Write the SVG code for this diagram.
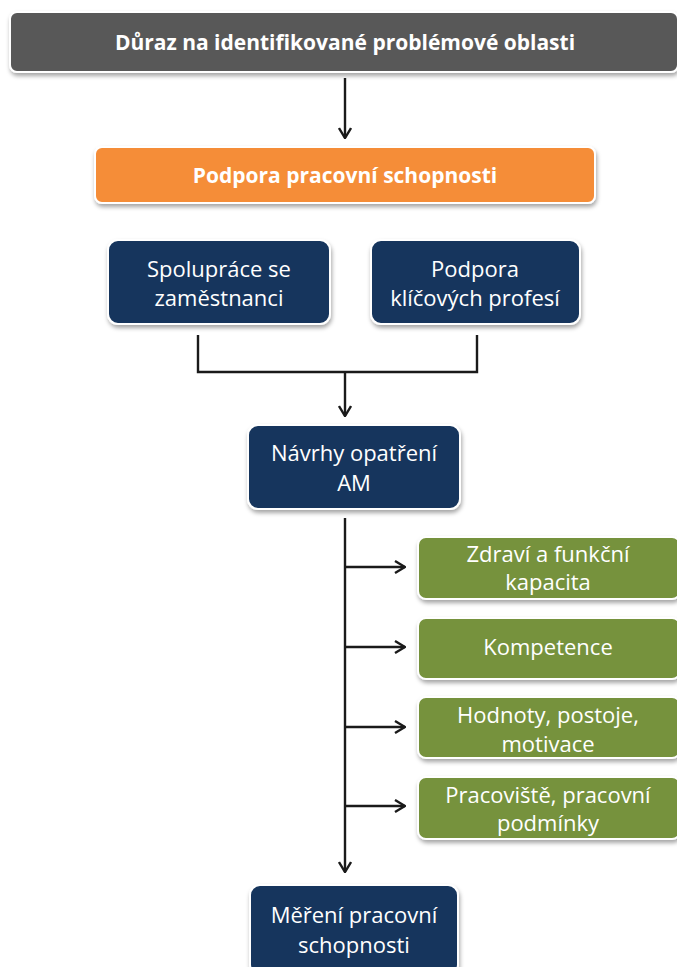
<svg xmlns="http://www.w3.org/2000/svg" width="677" height="967" viewBox="0 0 677 967">
  <defs>
    <filter id="shadow" x="-10%" y="-20%" width="130%" height="150%">
      <feDropShadow dx="1" dy="3" stdDeviation="2" flood-color="#000" flood-opacity="0.35"/>
    </filter>
    <marker id="arrow" viewBox="0 0 12 14" refX="11" refY="7" markerWidth="12" markerHeight="14" markerUnits="userSpaceOnUse" orient="auto">
      <path d="M1,1 L11,7 L1,13" fill="none" stroke="#1a1a1a" stroke-width="2.4" stroke-linejoin="miter"/>
    </marker>
  </defs>
  <style>
    .box { stroke: #ffffff; stroke-width: 2; filter: url(#shadow); }
    .grey { fill: #585858; }
    .orange { fill: #f58d38; }
    .navy { fill: #17365d; }
    .green { fill: #76923c; }
    .lbl { font-family: "Open Sans", "Liberation Sans", sans-serif; font-size: 22px; fill: #ffffff; text-anchor: middle; }
    .bold { font-weight: bold; font-size: 21px; }
    .wire { fill: none; stroke: #1a1a1a; stroke-width: 2.4; }
  </style>
  <rect width="677" height="967" fill="#ffffff"/>

  <g id="connectors">
    <line class="wire" x1="345" y1="78" x2="345" y2="138" marker-end="url(#arrow)"/>
    <polyline class="wire" points="198,335 198,372 477,372 477,335"/>
    <line class="wire" x1="345" y1="372" x2="345" y2="416" marker-end="url(#arrow)"/>
    <line class="wire" x1="345" y1="518" x2="345" y2="872" marker-end="url(#arrow)"/>
    <line class="wire" x1="345" y1="567" x2="405" y2="567" marker-end="url(#arrow)"/>
    <line class="wire" x1="345" y1="647" x2="405" y2="647" marker-end="url(#arrow)"/>
    <line class="wire" x1="345" y1="727" x2="405" y2="727" marker-end="url(#arrow)"/>
    <line class="wire" x1="345" y1="806" x2="405" y2="806" marker-end="url(#arrow)"/>
  </g>

  <g id="focus">
    <rect class="box grey" x="10" y="12" width="668" height="60" rx="7"/>
    <text class="lbl bold" x="345" y="50">Důraz na identifikované problémové oblasti</text>
  </g>

  <g id="support">
    <rect class="box orange" x="95" y="147" width="500" height="56" rx="7"/>
    <text class="lbl bold" x="345" y="183">Podpora pracovní schopnosti</text>
  </g>

  <g id="cooperation">
    <rect class="box navy" x="108" y="240" width="222" height="84" rx="10"/>
    <text class="lbl" x="219" y="277">Spolupráce se</text>
    <text class="lbl" x="219" y="306">zaměstnanci</text>
  </g>

  <g id="key-roles">
    <rect class="box navy" x="371" y="240" width="209" height="84" rx="10"/>
    <text class="lbl" x="475" y="277">Podpora</text>
    <text class="lbl" x="475" y="306">klíčových profesí</text>
  </g>

  <g id="measures">
    <rect class="box navy" x="248" y="425" width="212" height="84" rx="10"/>
    <text class="lbl" x="354" y="461">Návrhy opatření</text>
    <text class="lbl" x="354" y="491">AM</text>
  </g>

  <g id="health">
    <rect class="box green" x="418" y="537" width="262" height="62" rx="8"/>
    <text class="lbl" x="548" y="562">Zdraví a funkční</text>
    <text class="lbl" x="548" y="590">kapacita</text>
  </g>

  <g id="competence">
    <rect class="box green" x="418" y="618" width="262" height="61" rx="8"/>
    <text class="lbl" x="548" y="655">Kompetence</text>
  </g>

  <g id="values">
    <rect class="box green" x="418" y="697" width="262" height="61" rx="8"/>
    <text class="lbl" x="548" y="723">Hodnoty,  postoje,</text>
    <text class="lbl" x="548" y="752">motivace</text>
  </g>

  <g id="workplace">
    <rect class="box green" x="418" y="777" width="262" height="62" rx="8"/>
    <text class="lbl" x="548" y="803">Pracoviště, pracovní</text>
    <text class="lbl" x="548" y="831">podmínky</text>
  </g>

  <g id="measurement">
    <rect class="box navy" x="250" y="885" width="208" height="90" rx="10"/>
    <text class="lbl" x="354" y="923">Měření  pracovní</text>
    <text class="lbl" x="354" y="953">schopnosti</text>
  </g>
</svg>
